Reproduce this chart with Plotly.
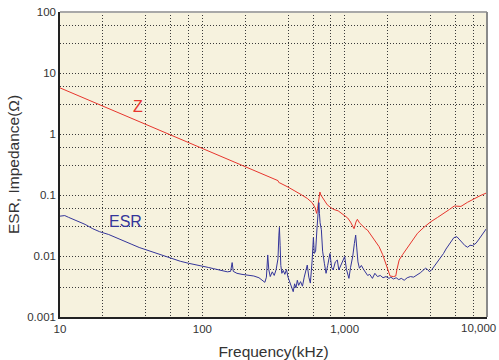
import plotly.graph_objects as go

# ---- data (frequency in kHz, values in ohms) ----
z_freq = [10, 20, 30, 50, 70, 100, 150, 200, 250, 300, 330, 340, 345, 350, 400, 450, 500,
          546, 590, 620, 635, 645, 660, 670, 680, 700, 730, 755, 800, 837, 900, 960, 1000,
          1050, 1100, 1140, 1164, 1200, 1228, 1270, 1330, 1400, 1445, 1550, 1650, 1746,
          1850, 1945, 2000, 2050, 2085, 2200, 2286, 2330, 2415, 2550, 2700, 2838, 3050,
          3250, 3600, 4033, 4500, 5003, 5450, 5885, 6560, 7300, 8150, 9000, 10000]
z_vals = [5.7, 2.86, 1.92, 1.15, 0.82, 0.57, 0.38, 0.285, 0.228, 0.19, 0.172, 0.172, 0.16,
          0.158, 0.135, 0.117, 0.1, 0.088, 0.075, 0.062, 0.05, 0.06, 0.095, 0.112, 0.1, 0.09,
          0.075, 0.069, 0.062, 0.058, 0.055, 0.049, 0.046, 0.042, 0.036, 0.03, 0.028, 0.036,
          0.04, 0.035, 0.031, 0.028, 0.0267, 0.021, 0.017, 0.0142, 0.0105, 0.0076, 0.006,
          0.005, 0.0047, 0.0046, 0.0047, 0.006, 0.0086, 0.0105, 0.0128, 0.0151, 0.019,
          0.0236, 0.0295, 0.0365, 0.043, 0.05, 0.058, 0.066, 0.065, 0.076, 0.088, 0.098, 0.109]

esr_freq = [10, 10.8, 11.5, 13, 15, 17, 19, 22, 25, 28, 32, 36, 40, 45, 50, 56, 62, 70, 80,
            90, 100, 110, 120, 135, 150, 158, 162, 165, 175, 190, 210, 230, 250, 265, 275,
            282, 288, 293, 300, 310, 320, 330, 340, 345, 348, 352, 356, 362, 370, 380, 390,
            400, 410, 420, 430, 435, 445, 455, 465, 475, 490, 505, 520, 535, 546, 560, 574,
            590, 603, 612, 625, 640, 652, 659, 665, 672, 686, 700, 720, 740, 760, 788, 810,
            830, 860, 888, 910, 940, 970, 1000, 1030, 1071, 1100, 1140, 1170, 1195, 1215,
            1240, 1270, 1310, 1360, 1400, 1450, 1500, 1567, 1630, 1700, 1780, 1860, 1950,
            2050, 2110, 2200, 2300, 2400, 2500, 2619, 2750, 2900, 3050, 3250, 3400, 3550,
            3700, 3822, 3950, 4100, 4300, 4500, 4745, 4950, 5150, 5350, 5576, 5850, 6145,
            6400, 6700, 7000, 7311, 7600, 7900, 8370, 8800, 9300, 9841, 10000]
esr_vals = [0.045, 0.046, 0.043, 0.038, 0.033, 0.028, 0.025, 0.0225, 0.02, 0.0178, 0.0155,
            0.0138, 0.0127, 0.0114, 0.0104, 0.0096, 0.0089, 0.0082, 0.0076, 0.0071, 0.0068,
            0.0065, 0.0062, 0.0058, 0.0055, 0.0056, 0.0078, 0.0056, 0.0052, 0.005, 0.0048,
            0.0047, 0.0044, 0.004, 0.0037, 0.0045, 0.0104, 0.006, 0.0046, 0.0055, 0.0048,
            0.006, 0.009, 0.022, 0.0295, 0.015, 0.007, 0.0052, 0.0058, 0.005, 0.006, 0.0045,
            0.0038, 0.0032, 0.0028, 0.0026, 0.0035, 0.003, 0.004, 0.0033, 0.0038, 0.0032,
            0.0045, 0.006, 0.0071, 0.0045, 0.0036, 0.008, 0.02, 0.011, 0.012, 0.03, 0.06,
            0.075, 0.05, 0.035, 0.027, 0.012, 0.0076, 0.0052, 0.007, 0.011, 0.0065, 0.0059,
            0.008, 0.0086, 0.0059, 0.007, 0.008, 0.0098, 0.006, 0.0043, 0.0065, 0.01, 0.016,
            0.022, 0.014, 0.008, 0.0063, 0.007, 0.006, 0.0055, 0.0048, 0.005, 0.0043, 0.0052,
            0.0046, 0.0048, 0.0044, 0.0046, 0.0043, 0.0045, 0.0042, 0.0044, 0.0041, 0.0043,
            0.004, 0.0044, 0.0046, 0.0045, 0.0049, 0.0053, 0.0058, 0.0063, 0.006, 0.0055,
            0.006, 0.007, 0.008, 0.0092, 0.011, 0.013, 0.015, 0.0171, 0.02, 0.0207, 0.0185,
            0.016, 0.0148, 0.0139, 0.015, 0.0148, 0.0162, 0.019, 0.023, 0.0274, 0.029]

x_ticks = [10, 100, 1000, 10000]
x_ticktext = ["10", "100", "1,000", ""]
x_last_label = "10,000"
y_ticks = [0.001, 0.01, 0.1, 1, 10, 100]
y_ticktext = ["0.001", "0.01", "0.1", "1", "10", "100"]
x_minor = [20, 40, 60, 80, 200, 400, 600, 800, 2000, 4000, 6000, 8000]
y_minor = [0.003, 0.006, 0.03, 0.06, 0.3, 0.6, 3, 6, 30, 60]

FONT = "Liberation Sans, Arial, Helvetica, sans-serif"
RED = "#e8352d"
BLUE = "#34359a"
GRID = "#3a3a3a"
DOT = "1px,2px"
TXT = "#333333"

fig = go.Figure()
fig.add_trace(go.Scatter(x=z_freq, y=z_vals, mode="lines", name="Z",
                         line=dict(color=RED, width=1), showlegend=False))
fig.add_trace(go.Scatter(x=esr_freq, y=esr_vals, mode="lines", name="ESR",
                         line=dict(color=BLUE, width=1), showlegend=False))

fig.add_annotation(x=1.547, y=0.443, xref="x", yref="y", text="Z", showarrow=False,
                   font=dict(family=FONT, size=16, color=RED))
fig.add_annotation(x=1.458, y=-1.437, xref="x", yref="y", text="ESR", showarrow=False,
                   font=dict(family=FONT, size=16, color=BLUE))
# last x tick label, kept inside the page like the reference
fig.add_annotation(x=4, y=0, xref="x", yref="paper", text=x_last_label, showarrow=False,
                   xanchor="right", yanchor="top", xshift=11, yshift=-3,
                   font=dict(family=FONT, size=11.5, color=TXT))

# top/right frame (gray)
fig.add_shape(type="line", xref="x domain", yref="y domain", x0=0, x1=1, y0=1, y1=1,
              line=dict(color="#a8a8a8", width=2))
fig.add_shape(type="line", xref="x domain", yref="y domain", x0=1, x1=1, y0=0, y1=1,
              line=dict(color="#8a8a8a", width=2))

fig.update_layout(
    width=499, height=360,
    margin=dict(l=60, r=12, t=12, b=43),
    paper_bgcolor="white",
    plot_bgcolor="#f6f2de",
    font=dict(family=FONT, size=11.5, color=TXT),
    xaxis=dict(type="log", range=[1, 4], tickvals=x_ticks, ticktext=x_ticktext,
               showgrid=True, gridcolor=GRID, griddash=DOT, gridwidth=1,
               minor=dict(tickvals=x_minor, showgrid=True, gridcolor=GRID, griddash=DOT,
                          gridwidth=1, ticks=""),
               showline=True, linecolor="#222222", linewidth=1.5, ticks="",
               ticklabeloverflow="allow", zeroline=False, automargin=False,
               title=dict(text="Frequency(kHz)", font=dict(family=FONT, size=15.5, color=TXT),
                          standoff=14)),
    yaxis=dict(type="log", range=[-3, 2], tickvals=y_ticks, ticktext=y_ticktext,
               showgrid=True, gridcolor=GRID, griddash=DOT, gridwidth=1,
               minor=dict(tickvals=y_minor, showgrid=True, gridcolor=GRID, griddash=DOT,
                          gridwidth=1, ticks=""),
               showline=True, linecolor="#222222", linewidth=1.5, ticks="",
               ticklabeloverflow="allow", zeroline=False, automargin=False,
               title=dict(text="ESR, Impedance(Ω)", font=dict(family=FONT, size=15.5, color=TXT),
                          standoff=4)),
)

fig.write_html("out.html")
